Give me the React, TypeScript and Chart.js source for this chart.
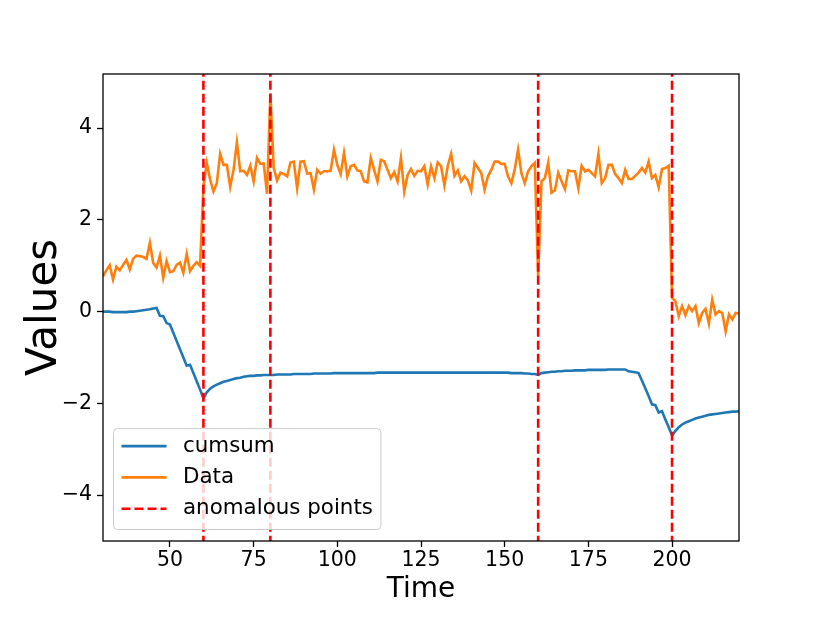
import React, { useEffect, useRef } from 'react';
import { Chart, registerables } from 'chart.js';

Chart.register(...registerables);

// ---- data (time axis starts at 30, one value per time step) ----
const START_TIME = 30;

const dataValues = [
  0.77, 0.90, 1.01, 0.70, 0.98, 0.90, 1.02, 1.13, 0.92, 1.15,
  1.22, 1.21, 1.19, 1.15, 1.50, 1.06, 0.96, 1.22, 0.74, 1.10,
  0.86, 0.88, 1.02, 1.07, 0.85, 1.26, 0.88, 1.00, 1.08, 1.00,
  2.73, 3.24, 2.88, 2.62, 2.80, 3.44, 3.20, 3.20, 2.72, 3.09,
  3.69, 3.06, 3.07, 2.98, 3.18, 2.84, 3.35, 3.22, 3.23, 2.57,
  4.76, 3.13, 2.86, 3.03, 3.00, 2.95, 3.25, 3.27, 2.69, 3.27,
  3.28, 3.01, 3.02, 2.66, 3.09, 3.01, 3.06, 3.06, 3.07, 3.53,
  3.20, 3.00, 3.46, 2.95, 3.17, 3.20, 3.08, 3.06, 2.84, 2.82,
  3.35, 3.09, 2.84, 3.31, 3.28, 3.09, 2.91, 3.04, 2.84, 3.35,
  2.62, 2.98, 3.11, 2.96, 3.07, 3.06, 3.17, 2.77, 3.17, 2.91,
  3.25, 3.17, 2.75, 3.18, 3.44, 2.96, 3.08, 2.84, 2.95, 2.86,
  2.64, 3.24, 3.13, 3.02, 2.66, 2.95, 3.09, 3.27, 3.27, 3.22,
  3.22, 2.95, 2.80, 3.10, 3.53, 3.02, 2.80, 3.06, 3.17, 3.24,
  0.77, 2.84, 2.91, 3.25, 2.59, 2.64, 3.03, 2.84, 2.67, 3.08,
  3.06, 3.06, 2.69, 3.18, 3.06, 3.09, 3.02, 2.95, 3.44, 2.80,
  2.91, 3.20, 3.20, 3.00, 2.91, 2.80, 3.09, 2.89, 2.89, 2.96,
  3.03, 3.13, 3.03, 3.27, 2.91, 2.98, 2.71, 3.11, 3.13, 3.18,
  0.30, 0.23, -0.10, 0.12, -0.08, 0.12, 0.01, 0.12, -0.25, -0.03,
  0.06, -0.26, 0.26, -0.06, 0.01, -0.03, -0.43, -0.06, -0.17, -0.03, -0.04,
];

const cumsumValues = [
  0.00, 0.00, 0.00, -0.01, -0.01, -0.01, -0.01, -0.01, 0.00, 0.00,
  0.01, 0.02, 0.03, 0.04, 0.05, 0.07, 0.08, -0.09, -0.10, -0.25,
  -0.28, -0.46, -0.64, -0.82, -1.00, -1.18, -1.16, -1.34, -1.52, -1.70,
  -1.89, -1.76, -1.68, -1.63, -1.59, -1.56, -1.53, -1.51, -1.49, -1.47,
  -1.45, -1.44, -1.42, -1.41, -1.40, -1.40, -1.39, -1.39, -1.38, -1.38,
  -1.38, -1.38, -1.37, -1.37, -1.37, -1.37, -1.37, -1.36, -1.36, -1.36,
  -1.36, -1.36, -1.36, -1.35, -1.35, -1.35, -1.35, -1.35, -1.35, -1.34,
  -1.34, -1.34, -1.34, -1.34, -1.34, -1.34, -1.34, -1.34, -1.34, -1.34,
  -1.34, -1.34, -1.33, -1.33, -1.33, -1.33, -1.33, -1.33, -1.33, -1.33,
  -1.33, -1.33, -1.33, -1.33, -1.33, -1.33, -1.33, -1.33, -1.33, -1.33,
  -1.33, -1.33, -1.33, -1.33, -1.33, -1.33, -1.33, -1.33, -1.33, -1.33,
  -1.33, -1.33, -1.33, -1.33, -1.33, -1.33, -1.33, -1.33, -1.33, -1.33,
  -1.33, -1.33, -1.34, -1.34, -1.34, -1.34, -1.35, -1.35, -1.36, -1.36,
  -1.38, -1.34, -1.33, -1.32, -1.31, -1.31, -1.30, -1.30, -1.29, -1.29,
  -1.29, -1.28, -1.28, -1.28, -1.28, -1.27, -1.27, -1.27, -1.27, -1.27,
  -1.27, -1.26, -1.26, -1.26, -1.26, -1.26, -1.26, -1.30, -1.31, -1.32,
  -1.34, -1.50, -1.67, -1.84, -2.02, -2.04, -2.20, -2.17, -2.35, -2.52,
  -2.70, -2.60, -2.52, -2.46, -2.42, -2.39, -2.36, -2.33, -2.31, -2.29,
  -2.27, -2.25, -2.24, -2.23, -2.22, -2.21, -2.20, -2.19, -2.18, -2.18, -2.17,
];

const anomalyTimes = [60, 80, 160, 200];

const xTickValues = [50, 75, 100, 125, 150, 175, 200];
const yTickValues = [-4, -2, 0, 2, 4];

const X_MIN = 30;
const X_MAX = 220;
const Y_MIN = -5;
const Y_MAX = 5.18;

const FONT = '"DejaVu Sans", "Liberation Sans", sans-serif';

const framePlugin = {
  id: 'frame',
  afterDatasetsDraw(chart: any) {
    const { ctx, chartArea } = chart;
    ctx.save();
    ctx.strokeStyle = '#000';
    ctx.lineWidth = 1.3;
    ctx.strokeRect(chartArea.left, chartArea.top, chartArea.right - chartArea.left, chartArea.bottom - chartArea.top);
    ctx.restore();
  },
};

const legendPlugin = {
  id: 'insideLegend',
  afterDraw(chart: any) {
    const { ctx, chartArea } = chart;
    const datasets = chart.data.datasets;
    ctx.save();
    ctx.font = `21.4px ${FONT}`;
    const maxW = Math.max(...datasets.map((d: any) => ctx.measureText(d.label).width));
    const rowH = 31.3;
    const boxX = chartArea.left + 10.5;
    const boxBottom = chartArea.bottom - 11.5;
    const boxH = rowH * datasets.length + 7;
    const boxY = boxBottom - boxH;
    const lineX0 = boxX + 8;
    const lineX1 = lineX0 + 45;
    const textX = lineX1 + 16.5;
    const boxW = textX - boxX + maxW + 8;
    const r = 4;
    ctx.beginPath();
    ctx.moveTo(boxX + r, boxY);
    ctx.lineTo(boxX + boxW - r, boxY);
    ctx.arcTo(boxX + boxW, boxY, boxX + boxW, boxY + r, r);
    ctx.lineTo(boxX + boxW, boxY + boxH - r);
    ctx.arcTo(boxX + boxW, boxY + boxH, boxX + boxW - r, boxY + boxH, r);
    ctx.lineTo(boxX + r, boxY + boxH);
    ctx.arcTo(boxX, boxY + boxH, boxX, boxY + boxH - r, r);
    ctx.lineTo(boxX, boxY + r);
    ctx.arcTo(boxX, boxY, boxX + r, boxY, r);
    ctx.closePath();
    ctx.fillStyle = 'rgba(255,255,255,0.8)';
    ctx.fill();
    ctx.strokeStyle = '#cccccc';
    ctx.lineWidth = 1;
    ctx.stroke();

    datasets.forEach((d: any, i: number) => {
      const y = boxY + 17.5 + i * rowH;
      ctx.beginPath();
      ctx.setLineDash(d.borderDash || []);
      ctx.strokeStyle = d.borderColor;
      ctx.lineWidth = d.borderWidth;
      ctx.moveTo(lineX0, y);
      ctx.lineTo(lineX1, y);
      ctx.stroke();
      ctx.setLineDash([]);
      ctx.fillStyle = '#000';
      ctx.textBaseline = 'middle';
      ctx.textAlign = 'left';
      ctx.fillText(d.label, textX, y);
    });
    ctx.restore();
  },
};

const fmt = (v: number) => (v < 0 ? '\u2212' + Math.abs(v) : String(v));

export default function App() {
  const canvasRef = useRef<HTMLCanvasElement | null>(null);

  useEffect(() => {
    if (!canvasRef.current) return;
    const toPoints = (arr: number[]) => arr.map((v, i) => ({ x: START_TIME + i, y: v }));
    const anomalyPoints: any[] = [];
    anomalyTimes.forEach((t) => {
      anomalyPoints.push({ x: t, y: Y_MIN - 10 });
      anomalyPoints.push({ x: t, y: Y_MAX + 10 });
      anomalyPoints.push({ x: t, y: null });
    });

    const chart = new Chart(canvasRef.current, {
      type: 'line',
      data: {
        datasets: [
          {
            label: 'cumsum',
            data: toPoints(cumsumValues),
            borderColor: '#1f77b4',
            backgroundColor: '#1f77b4',
            borderWidth: 2.6,
            pointRadius: 0,
            tension: 0,
            order: 2,
          },
          {
            label: 'Data',
            data: toPoints(dataValues),
            borderColor: '#ff7f0e',
            backgroundColor: '#ff7f0e',
            borderWidth: 2.6,
            pointRadius: 0,
            tension: 0,
            order: 1,
          },
          {
            label: 'anomalous points',
            data: anomalyPoints,
            borderColor: '#ff0000',
            backgroundColor: '#ff0000',
            borderWidth: 2.6,
            borderDash: [9, 4],
            pointRadius: 0,
            spanGaps: false,
            order: 0,
          },
        ] as any,
      },
      options: {
        responsive: false,
        animation: false,
        devicePixelRatio: 1,
        layout: { padding: { left: 0, right: 83, top: 74, bottom: 0 } },
        plugins: {
          legend: { display: false },
          tooltip: { enabled: false },
        },
        scales: {
          x: {
            type: 'linear',
            min: X_MIN,
            max: X_MAX,
            afterBuildTicks: (s: any) => {
              s.ticks = xTickValues.map((v) => ({ value: v }));
            },
            afterFit: (s: any) => {
              s.height = 76;
            },
            border: { display: false },
            grid: {
              drawOnChartArea: false,
              drawTicks: true,
              tickLength: 6,
              tickWidth: 1.3,
              tickColor: '#000',
            },
            ticks: {
              font: { family: FONT, size: 20.5, lineHeight: 1 },
              color: '#000',
              padding: 3,
              maxRotation: 0,
              autoSkip: false,
              callback: (v: any) => fmt(Number(v)),
            },
            title: {
              display: true,
              text: 'Time',
              color: '#000',
              font: { family: FONT, size: 28, lineHeight: 1 },
              padding: { top: 0, bottom: 13 },
            },
          },
          y: {
            type: 'linear',
            min: Y_MIN,
            max: Y_MAX,
            afterBuildTicks: (s: any) => {
              s.ticks = yTickValues.map((v) => ({ value: v }));
            },
            afterFit: (s: any) => {
              s.width = 103;
            },
            border: { display: false },
            grid: {
              drawOnChartArea: false,
              drawTicks: true,
              tickLength: 6,
              tickWidth: 1.3,
              tickColor: '#000',
            },
            ticks: {
              font: { family: FONT, size: 20.5, lineHeight: 1 },
              color: '#000',
              padding: 5,
              autoSkip: false,
              callback: (v: any) => fmt(Number(v)),
            },
            title: {
              display: true,
              text: 'Values',
              color: '#000',
              font: { family: FONT, size: 42, lineHeight: 1 },
              padding: { top: 24, bottom: 0 },
            },
          },
        },
      } as any,
      plugins: [framePlugin, legendPlugin],
    });
    return () => chart.destroy();
  }, []);

  return (
    <div style={{ position: 'fixed', left: 0, top: 0, width: 822, height: 617, background: '#fff' }}>
      <canvas ref={canvasRef} width={822} height={617} style={{ display: 'block', width: 822, height: 617 }} />
    </div>
  );
}
